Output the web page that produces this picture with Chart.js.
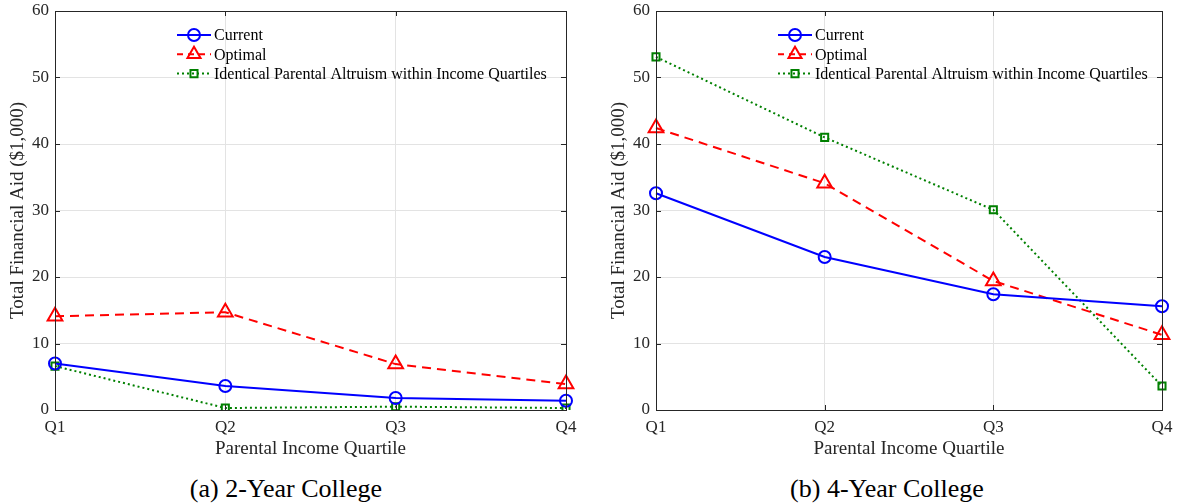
<!DOCTYPE html>
<html>
<head>
<meta charset="utf-8">
<script src="https://cdn.jsdelivr.net/npm/chart.js@4.4.1/dist/chart.umd.min.js"></script>
<style>
  body { margin: 0; background: #fff; width: 1177px; height: 504px; position: relative; overflow: hidden; }
  .panel { position: absolute; top: 0; height: 460px; }
  .cap { position: absolute; top: 474px; line-height: 30px; font-family: "Liberation Serif", "DejaVu Serif", serif; font-size: 26px; color: #000; text-align: center; white-space: nowrap; }
</style>
</head>
<body>
<div class="panel" style="left:0;width:588px"><canvas id="left" width="588" height="460"></canvas></div>
<div class="panel" style="left:588px;width:589px"><canvas id="right" width="589" height="460"></canvas></div>
<div class="cap" style="left:86px;width:400px">(a) 2-Year College</div>
<div class="cap" style="left:687px;width:400px">(b) 4-Year College</div>
<script>
var quartiles = ['Q1', 'Q2', 'Q3', 'Q4'];
var yTicks = [0, 10, 20, 30, 40, 50, 60];
var seriesNames = ['Current', 'Optimal', 'Identical Parental Altruism within Income Quartiles'];

// 2-year college, $1,000
var twoYrCurrent = [7.0, 3.6, 1.8, 1.4];
var twoYrOptimal = [14.1, 14.7, 6.9, 3.9];
var twoYrIdentical = [6.6, 0.3, 0.5, 0.3];

// 4-year college, $1,000
var fourYrCurrent = [32.6, 23.0, 17.4, 15.6];
var fourYrOptimal = [42.4, 34.1, 19.4, 11.3];
var fourYrIdentical = [53.1, 41.0, 30.1, 3.6];

var FONT = '"Liberation Serif", "DejaVu Serif", serif';
var INK = '#262626';

var styles = [
  {color: '#0000ff', dash: [], legendDash: [], point: 'circle', r: 6},
  {color: '#ff0000', dash: [9, 6], legendDash: [6, 5], point: 'triangle', r: 8.5},
  {color: '#008000', dash: [2, 3], legendDash: [2, 3], point: 'rect', r: 5}
];

function marker(ctx, kind, x, y, r) {
  ctx.beginPath();
  if (kind === 'circle') {
    ctx.arc(x, y, r, 0, Math.PI * 2);
  } else if (kind === 'triangle') {
    ctx.moveTo(x, y - r);
    ctx.lineTo(x + r * 0.87, y + r * 0.5);
    ctx.lineTo(x - r * 0.87, y + r * 0.5);
    ctx.closePath();
  } else {
    ctx.rect(x - r * 0.707, y - r * 0.707, r * 1.414, r * 1.414);
  }
  ctx.stroke();
}

// box frame, inward ticks and the in-plot legend
var framePlugin = {
  id: 'frame',
  afterDraw: function (chart) {
    var ctx = chart.ctx, a = chart.chartArea;
    var xs = chart.scales.x, ys = chart.scales.y;
    ctx.save();
    ctx.strokeStyle = INK;
    ctx.lineWidth = 1;
    ctx.setLineDash([]);
    ctx.strokeRect(Math.round(a.left) + 0.5, Math.round(a.top) + 0.5,
                   Math.round(a.right - a.left), Math.round(a.bottom - a.top));
    ctx.beginPath();
    quartiles.forEach(function (q, i) {
      var x = Math.round(xs.getPixelForValue(i)) + 0.5;
      ctx.moveTo(x, a.bottom); ctx.lineTo(x, a.bottom - 5);
      ctx.moveTo(x, a.top); ctx.lineTo(x, a.top + 5);
    });
    yTicks.forEach(function (v) {
      var y = Math.round(ys.getPixelForValue(v)) + 0.5;
      ctx.moveTo(a.left, y); ctx.lineTo(a.left + 5, y);
      ctx.moveTo(a.right, y); ctx.lineTo(a.right - 5, y);
    });
    ctx.stroke();

    var lx = a.left + 122, ly = a.top + 24;
    ctx.font = '16px ' + FONT;
    ctx.textBaseline = 'middle';
    ctx.fillStyle = '#000';
    seriesNames.forEach(function (name, i) {
      var s = styles[i], y = ly + i * 19.3;
      ctx.strokeStyle = s.color;
      ctx.lineWidth = 2;
      ctx.setLineDash(s.legendDash);
      ctx.beginPath();
      ctx.moveTo(lx, y); ctx.lineTo(lx + 34, y);
      ctx.stroke();
      ctx.setLineDash([]);
      marker(ctx, s.point, lx + 17, y, i === 1 ? 7.5 : s.r);
      ctx.fillText(name, lx + 37, y + 1);
    });
    ctx.restore();
  }
};

function buildChart(id, values, leftPad, rightPad) {
  var datasets = values.map(function (v, i) {
    var s = styles[i];
    return {
      label: seriesNames[i],
      data: v,
      borderColor: s.color,
      borderWidth: 2,
      borderDash: s.dash,
      pointStyle: s.point,
      pointRadius: s.r,
      pointBorderWidth: 2,
      pointBorderColor: s.color,
      pointBackgroundColor: 'rgba(0,0,0,0)',
      tension: 0
    };
  });
  return new Chart(document.getElementById(id), {
    type: 'line',
    data: {labels: quartiles, datasets: datasets},
    plugins: [framePlugin],
    options: {
      responsive: false,
      animation: false,
      layout: {padding: {top: 11, right: rightPad, left: leftPad, bottom: 0}},
      plugins: {legend: {display: false}, tooltip: {enabled: false}},
      scales: {
        x: {
          offset: false,
          grid: {color: '#e3e3e3', drawTicks: false},
          border: {display: false},
          ticks: {color: INK, font: {family: FONT, size: 17}, padding: 7},
          title: {display: true, text: 'Parental Income Quartile', color: INK,
                  font: {family: FONT, size: 19}, padding: {top: 2, bottom: 0}},
          afterFit: function (s) { s.height = 50; s.paddingLeft = 0; s.paddingRight = 0; }
        },
        y: {
          min: 0, max: 60,
          afterBuildTicks: function (s) { s.ticks = yTicks.map(function (v) { return {value: v}; }); },
          grid: {color: '#e3e3e3', drawTicks: false},
          border: {display: false},
          ticks: {color: INK, font: {family: FONT, size: 17}, padding: 6},
          title: {display: true, text: 'Total Financial Aid ($1,000)', color: INK,
                  font: {family: FONT, size: 19}, padding: {top: 7, bottom: 0}},
          afterFit: function (s) { s.width = 55; s.paddingTop = 0; s.paddingBottom = 0; }
        }
      }
    }
  });
}

buildChart('left', [twoYrCurrent, twoYrOptimal, twoYrIdentical], 0, 22);
buildChart('right', [fourYrCurrent, fourYrOptimal, fourYrIdentical], 13, 15);
</script>
</body>
</html>
